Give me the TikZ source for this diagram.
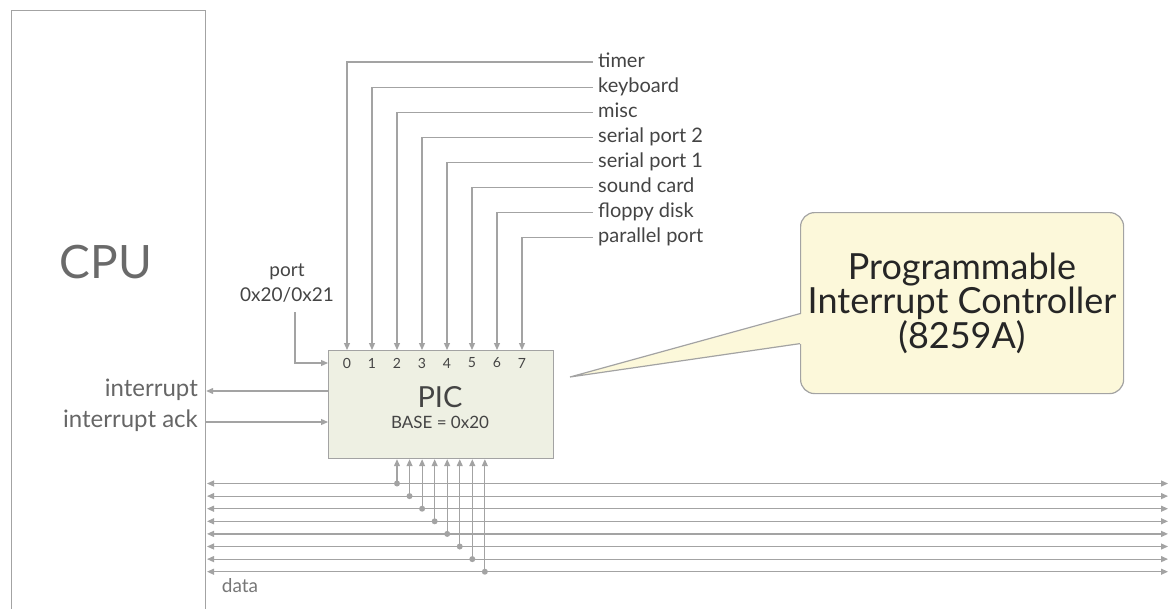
\documentclass[tikz,border=0pt]{standalone}
\usepackage{fontspec}
\setmainfont{Lato}
\usetikzlibrary{arrows.meta,calc}
\definecolor{ln}{HTML}{A3A3A3}
\definecolor{tx}{HTML}{444444}
\definecolor{midtx}{HTML}{666666}
\definecolor{cputx}{HTML}{6A6A6A}
\definecolor{datatx}{HTML}{777777}
\definecolor{picfill}{HTML}{EEF0E3}
\definecolor{calfill}{HTML}{FCF8DA}
\begin{document}
\begin{tikzpicture}[x=1pt,y=-1pt,
  wire/.style={draw=ln,line width=1.2pt},
  arr/.style={-{Triangle[length=7pt,width=6pt]}},
  arrboth/.style={{Triangle[length=7pt,width=6pt]}-{Triangle[length=7pt,width=6pt]}},
  lbl/.style={text=tx,font=\fontsize{20}{25}\selectfont,inner sep=5pt,text height=15pt,text depth=5pt},
  side/.style={text=midtx,font=\fontsize{24}{25}\selectfont,inner sep=2pt,text height=17pt,text depth=6pt},
  num/.style={text=tx,font=\fontsize{14}{14}\selectfont,inner sep=0pt}
]
\useasboundingbox (0,0) rectangle (1172,608);
\clip (0,0) rectangle (1172,608);
% CPU
\node[draw=ln,line width=1.2pt,minimum width=194pt,minimum height=700pt,anchor=north west,inner sep=0pt] (cpu) at (11,10) {};
\node[text=cputx,font=\fontsize{46}{48}\selectfont] (cputxt) at (106,262) {CPU};
% PIC
\node[draw=ln,line width=1.2pt,fill=picfill,minimum width=225pt,minimum height=108pt,anchor=north west,inner sep=0pt] (pic) at (328,350) {};
\node[text=tx,font=\fontsize{29}{30}\selectfont] (pictxt) at (440,397) {PIC};
\node[text=tx,font=\fontsize{17}{18}\selectfont] (base) at (440,422) {BASE = 0x20};
\foreach \i in {0,...,7}{
  \node[num] (n\i) at ({347+25*\i},363) {\i};
}
% IRQ sources
\foreach \i/\t in {0/timer,1/keyboard,2/misc,3/serial port 2,4/serial port 1,5/sound card,6/floppy disk,7/parallel port}{
  \node[lbl,anchor=west] (l\i) at (593,{62+25.1*\i}) {\t};
  \draw[wire,arr] (l\i.west) -| (n\i |- pic.north);
}
% port
\node[text=tx,font=\fontsize{19}{25}\selectfont,align=center] (port) at (287,283) {port\\0x20/0x21};
\coordinate (portend) at (295,312);
\draw[wire,arr] (portend) |- (n0 -| pic.west);
% interrupt lines
\node[side,anchor=east] (intr) at (200,391) {interrupt};
\node[side,anchor=east] (ack) at (200,422) {interrupt ack};
\draw[wire,arr] (pic.west |- intr) -- (cpu.east |- intr);
\draw[wire,arr] (cpu.east |- ack) -- (pic.west |- ack);
% data bus
\foreach \i in {0,...,7}{
  \coordinate (bl\i) at (207,{483.5+12.6*\i});
  \coordinate (br\i) at (1168,{483.5+12.6*\i});
  \coordinate (bd\i) at ({397+12.55*\i},{483.5+12.6*\i});
  \draw[wire,arrboth] (bl\i) -- (br\i);
  \draw[wire,arr] (bd\i) -- (bd\i |- pic.south);
  \fill[ln] (bd\i) circle (3pt);
}
\node[text=datatx,font=\fontsize{19}{20}\selectfont] (data) at (240,586) {data};
% callout
\node[draw=ln,line width=1.2pt,fill=calfill,rounded corners=14pt,minimum width=323pt,minimum height=181pt,anchor=north west,inner sep=0pt] (cal) at (800,212) {};
\coordinate (ctip) at (570,377);
\fill[calfill] ($(cal.west)+(3,10.5)$) -- (ctip) -- ($(cal.west)+(3,40.5)$) -- cycle;
\draw[wire,line join=miter] ($(cal.west)+(0,10.5)$) -- (ctip) -- ($(cal.west)+(0,40.5)$);
\node[text=black!85,font=\fontsize{36}{31.5}\selectfont,align=center] (caltxt) at (962,303) {Programmable\\Interrupt Controller\\(8259A)};
\end{tikzpicture}
\end{document}
